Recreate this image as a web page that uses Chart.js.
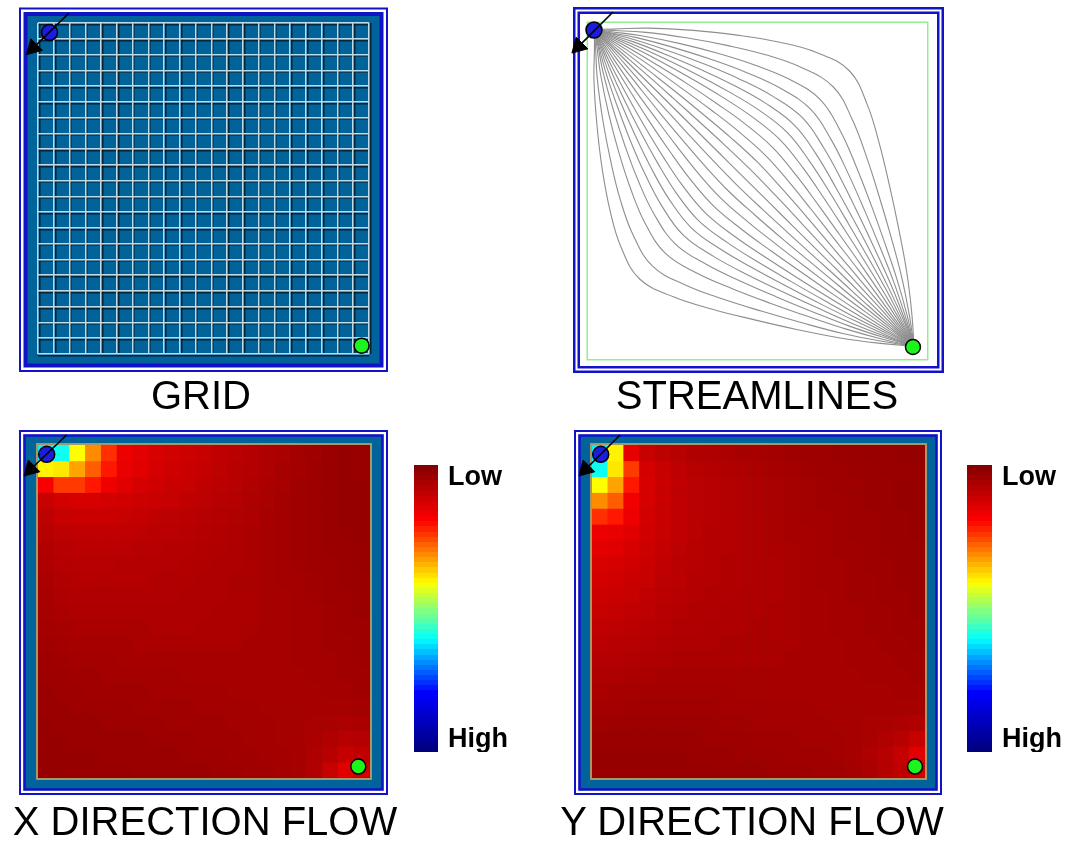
<!DOCTYPE html>
<html lang="en">
<head>
<meta charset="utf-8">
<title>Corner to corner flow</title>
<script src="https://cdn.jsdelivr.net/npm/chart.js@4.4.1/dist/chart.umd.min.js"></script>
<style>
    html, body { margin: 0; padding: 0; background: #ffffff; overflow: hidden; }
    body { position: relative; width: 1073px; height: 841px; }
    canvas { position: absolute; display: block; }
    .panel-title {
        position: absolute; width: 500px; text-align: center;
        font-family: 'Liberation Sans', Arial, Helvetica, sans-serif;
        font-size: 40px; line-height: 40px; color: #000000; white-space: nowrap;
    }
</style>
</head>
<body>
<canvas id="gridChart" width="410" height="380" style="left:0;top:0"></canvas>
<canvas id="streamChart" width="410" height="380" style="left:550px;top:0"></canvas>
<canvas id="xFlowChart" width="410" height="380" style="left:0;top:420px"></canvas>
<canvas id="yFlowChart" width="410" height="380" style="left:550px;top:420px"></canvas>
<canvas id="xScaleBar" width="124" height="312" style="left:400px;top:440px"></canvas>
<canvas id="yScaleBar" width="117" height="312" style="left:953px;top:440px"></canvas>
<div class="panel-title" id="title0" style="left:-49px;top:375px"></div>
<div class="panel-title" id="title1" style="left:507px;top:375px"></div>
<div class="panel-title" id="title2" style="left:-45px;top:801px"></div>
<div class="panel-title" id="title3" style="left:502px;top:801px"></div>
<script>
// All positions are in grid cells: x 0..21 left to right, y 0..21 top to bottom.

const gridLines = [0, 1, 2, 3, 4, 5, 6, 7, 8, 9, 10, 11, 12, 13, 14, 15, 16, 17, 18, 19, 20, 21];

// source (blue), sink (green) and inlet arrow [start, head] for each panel
const gridSource = [{ x: 0.63, y: 0.5 }];
const gridSink = [{ x: 20.43, y: 20.37 }];
const gridInlet = [{ x: 1.84, y: -0.70 }, { x: -0.40, y: 1.48 }];

const streamSource = [{ x: 0.37, y: 0.44 }];
const streamSink = [{ x: 20.13, y: 20.25 }];
const streamInlet = [{ x: 1.55, y: -0.69 }, { x: -0.58, y: 1.46 }];

const xFlowSource = [{ x: 0.55, y: 0.59 }];
const xFlowSink = [{ x: 20.26, y: 20.28 }];
const xFlowInlet = [{ x: 1.81, y: -0.63 }, { x: -0.46, y: 1.53 }];

const yFlowSource = [{ x: 0.55, y: 0.59 }];
const yFlowSink = [{ x: 20.37, y: 20.28 }];
const yFlowInlet = [{ x: 1.77, y: -0.63 }, { x: -0.40, y: 1.53 }];

// streamlines: stations along the source-sink diagonal, and each line's
// offset from that diagonal at every station (+ towards the top right corner)
const streamStations = [0.4, 1.0, 2.0, 3.5, 5.0, 6.5, 8.0, 9.6, 11.2, 12.8, 14.4, 16.0, 17.6, 19.0, 20.2];
const streamOffsets = [
    [0, -0.60, -1.63, -2.94, -4.12, -5.15, -5.97, -6.40, -5.91, -5.09, -4.14, -3.14, -2.07, -1.01, 0],
    [0, -0.53, -1.43, -2.58, -3.60, -4.51, -5.22, -5.60, -5.17, -4.45, -3.62, -2.74, -1.81, -0.88, 0],
    [0, -0.45, -1.22, -2.21, -3.09, -3.86, -4.48, -4.80, -4.44, -3.82, -3.11, -2.35, -1.55, -0.76, 0],
    [0, -0.39, -1.07, -1.93, -2.70, -3.38, -3.92, -4.20, -3.88, -3.34, -2.72, -2.06, -1.36, -0.66, 0],
    [0, -0.35, -0.94, -1.69, -2.37, -2.96, -3.43, -3.68, -3.40, -2.93, -2.38, -1.80, -1.19, -0.58, 0],
    [0, -0.30, -0.82, -1.47, -2.06, -2.58, -2.99, -3.20, -2.96, -2.54, -2.07, -1.57, -1.03, -0.51, 0],
    [0, -0.26, -0.70, -1.27, -1.77, -2.21, -2.57, -2.75, -2.54, -2.19, -1.78, -1.35, -0.89, -0.43, 0],
    [0, -0.22, -0.59, -1.06, -1.48, -1.85, -2.15, -2.30, -2.13, -1.83, -1.49, -1.13, -0.74, -0.36, 0],
    [0, -0.17, -0.47, -0.84, -1.18, -1.47, -1.71, -1.83, -1.69, -1.45, -1.18, -0.90, -0.59, -0.29, 0],
    [0, -0.13, -0.35, -0.63, -0.87, -1.09, -1.27, -1.36, -1.26, -1.08, -0.88, -0.67, -0.44, -0.21, 0],
    [0, -0.08, -0.23, -0.41, -0.58, -0.72, -0.84, -0.90, -0.83, -0.72, -0.58, -0.44, -0.29, -0.14, 0],
    [0, -0.04, -0.11, -0.21, -0.29, -0.36, -0.42, -0.45, -0.42, -0.36, -0.29, -0.22, -0.15, -0.07, 0],
    [0, 0, 0, 0, 0, 0, 0, 0, 0, 0, 0, 0, 0, 0, 0],
    [0, 0.04, 0.11, 0.21, 0.29, 0.36, 0.42, 0.45, 0.42, 0.36, 0.29, 0.22, 0.15, 0.07, 0],
    [0, 0.08, 0.23, 0.41, 0.58, 0.72, 0.84, 0.90, 0.83, 0.72, 0.58, 0.44, 0.29, 0.14, 0],
    [0, 0.13, 0.35, 0.63, 0.87, 1.09, 1.27, 1.36, 1.26, 1.08, 0.88, 0.67, 0.44, 0.21, 0],
    [0, 0.17, 0.47, 0.84, 1.18, 1.47, 1.71, 1.83, 1.69, 1.45, 1.18, 0.90, 0.59, 0.29, 0],
    [0, 0.22, 0.59, 1.06, 1.48, 1.85, 2.15, 2.30, 2.13, 1.83, 1.49, 1.13, 0.74, 0.36, 0],
    [0, 0.26, 0.70, 1.27, 1.77, 2.21, 2.57, 2.75, 2.54, 2.19, 1.78, 1.35, 0.89, 0.43, 0],
    [0, 0.30, 0.82, 1.47, 2.06, 2.58, 2.99, 3.20, 2.96, 2.54, 2.07, 1.57, 1.03, 0.51, 0],
    [0, 0.35, 0.94, 1.69, 2.37, 2.96, 3.43, 3.68, 3.40, 2.93, 2.38, 1.80, 1.19, 0.58, 0],
    [0, 0.39, 1.07, 1.93, 2.70, 3.38, 3.92, 4.20, 3.88, 3.34, 2.72, 2.06, 1.36, 0.66, 0],
    [0, 0.45, 1.22, 2.21, 3.09, 3.86, 4.48, 4.80, 4.44, 3.82, 3.11, 2.35, 1.55, 0.76, 0],
    [0, 0.53, 1.43, 2.58, 3.60, 4.51, 5.22, 5.60, 5.17, 4.45, 3.62, 2.74, 1.81, 0.88, 0],
    [0, 0.62, 1.68, 3.04, 4.24, 5.31, 6.16, 6.60, 6.10, 5.25, 4.27, 3.23, 2.13, 1.04, 0]
];

// flow magnitude per cell, 0 = Low ... 100 = High, rows top to bottom
const xFlow = [
    [62, 60, 41, 31, 23, 16, 14.5, 13, 12, 11, 10, 9, 8, 7, 6, 5.5, 4.5, 4, 3, 2.5, 2.5],
    [40, 39, 33, 27, 21, 15.5, 14, 12.5, 11.5, 10.5, 9.5, 8.5, 7.5, 7, 6, 5, 4.5, 3.5, 3, 2.5, 2.5],
    [18, 24, 24, 21, 16.5, 14, 12.5, 11.5, 10.5, 10, 9, 8, 7.5, 6.5, 5.5, 5, 4, 3.5, 3, 2.5, 2.5],
    [10, 12, 12.5, 12.5, 12, 11.5, 11, 10.5, 10, 9, 8.5, 7.5, 7, 6, 5.5, 4.5, 4, 3.5, 3, 2.5, 2.5],
    [8.5, 10, 10.5, 10.5, 10.5, 10, 9.5, 9, 8.5, 8, 7.5, 7, 6.5, 6, 5, 4.5, 4, 3.5, 3, 2.5, 2.5],
    [7.5, 8.5, 9, 9, 9, 9, 8.5, 8, 8, 7.5, 7, 6.5, 6, 5.5, 5, 4.5, 4, 3.5, 3, 2.5, 2.5],
    [6.5, 7.5, 8, 8, 8, 8, 7.5, 7.5, 7, 7, 6.5, 6.5, 6, 5.5, 5, 4.5, 4, 3.5, 3, 3, 2.5],
    [6, 7, 7.5, 7.5, 7.5, 7, 7, 7, 7, 6.5, 6.5, 6, 6, 5.5, 5, 4.5, 4, 3.5, 3.5, 3, 2.5],
    [5.5, 6.5, 7, 7, 7, 7, 7, 6.5, 6.5, 6.5, 6, 6, 5.5, 5.5, 5, 4.5, 4.5, 4, 3.5, 3, 3],
    [5, 6, 6.5, 6.5, 6.5, 6.5, 6.5, 6.5, 6.5, 6, 6, 6, 5.5, 5.5, 5, 5, 4.5, 4, 3.5, 3.5, 3],
    [5, 5.5, 6, 6, 6, 6, 6, 6, 6, 6, 6, 5.5, 5.5, 5.5, 5, 5, 4.5, 4.5, 4, 3.5, 3],
    [4.5, 5, 5.5, 5.5, 5.5, 5.5, 5.5, 6, 6, 6, 5.5, 5.5, 5.5, 5.5, 5, 5, 4.5, 4.5, 4, 3.5, 3.5],
    [4, 4.5, 5, 5, 5, 5, 5.5, 5.5, 5.5, 5.5, 5.5, 5.5, 5.5, 5, 5, 5, 4.5, 4.5, 4, 4, 3.5],
    [3.5, 4, 4.5, 4.5, 4.5, 5, 5, 5, 5, 5, 5, 5, 5, 5, 5, 5, 4.5, 4.5, 4.5, 4, 3.5],
    [3.5, 3.5, 4, 4, 4.5, 4.5, 4.5, 4.5, 4.5, 5, 5, 5, 5, 5, 5, 5, 5, 4.5, 4.5, 4, 4],
    [3, 3.5, 3.5, 4, 4, 4, 4, 4.5, 4.5, 4.5, 4.5, 4.5, 5, 5, 5, 5, 5, 5, 4.5, 4.5, 4],
    [3, 3, 3.5, 3.5, 3.5, 3.5, 4, 4, 4, 4, 4.5, 4.5, 4.5, 4.5, 5, 5, 5, 5, 5, 5, 4.5],
    [2.5, 3, 3, 3, 3.5, 3.5, 3.5, 3.5, 4, 4, 4, 4, 4.5, 4.5, 4.5, 5, 5, 5.5, 5.5, 6, 5.5],
    [2.5, 2.5, 3, 3, 3, 3, 3, 3.5, 3.5, 3.5, 4, 4, 4, 4.5, 4.5, 5, 5, 5.5, 6.5, 7.5, 7],
    [2.5, 2.5, 2.5, 2.5, 3, 3, 3, 3, 3, 3.5, 3.5, 3.5, 4, 4, 4.5, 4.5, 5, 6, 7.5, 9.5, 9],
    [2, 2.5, 2.5, 2.5, 2.5, 2.5, 3, 3, 3, 3, 3, 3.5, 3.5, 4, 4, 4.5, 5, 6.5, 10, 14, 12]
];

const yFlow = [
    [62, 40, 15, 10, 8.5, 7.5, 6.5, 6, 5.5, 5, 5, 4.5, 4, 3.5, 3.5, 3, 3, 2.5, 2.5, 2.5, 2],
    [60, 39, 24, 12, 10, 8.5, 7.5, 7, 6.5, 6, 5.5, 5, 4.5, 4, 3.5, 3.5, 3, 3, 2.5, 2.5, 2.5],
    [41, 33, 21, 12.5, 10.5, 9, 8, 7.5, 7, 6.5, 6, 5.5, 5, 4.5, 4, 3.5, 3.5, 3, 3, 2.5, 2.5],
    [31, 27, 17, 12.5, 10.5, 9, 8, 7.5, 7, 6.5, 6, 5.5, 5, 4.5, 4, 4, 3.5, 3, 3, 2.5, 2.5],
    [23, 21, 16.5, 12, 10.5, 9, 8, 7.5, 7, 6.5, 6, 5.5, 5, 4.5, 4.5, 4, 3.5, 3.5, 3, 3, 2.5],
    [16, 15.5, 14, 11.5, 10, 9, 8, 7, 7, 6.5, 6, 5.5, 5, 5, 4.5, 4, 3.5, 3.5, 3, 3, 2.5],
    [14.5, 14, 12.5, 11, 9.5, 8.5, 7.5, 7, 7, 6.5, 6, 5.5, 5.5, 5, 4.5, 4, 4, 3.5, 3, 3, 3],
    [13, 12.5, 11.5, 10.5, 9, 8, 7.5, 7, 6.5, 6.5, 6, 6, 5.5, 5, 4.5, 4.5, 4, 3.5, 3.5, 3, 3],
    [12, 11.5, 10.5, 10, 8.5, 8, 7, 7, 6.5, 6.5, 6, 6, 5.5, 5, 4.5, 4.5, 4, 4, 3.5, 3, 3],
    [11, 10.5, 10, 9, 8, 7.5, 7, 6.5, 6.5, 6, 6, 6, 5.5, 5, 5, 4.5, 4, 4, 3.5, 3.5, 3],
    [10, 9.5, 9, 8.5, 7.5, 7, 6.5, 6.5, 6, 6, 6, 5.5, 5.5, 5, 5, 4.5, 4.5, 4, 4, 3.5, 3],
    [9, 8.5, 8, 7.5, 7, 6.5, 6.5, 6, 6, 6, 5.5, 5.5, 5.5, 5, 5, 4.5, 4.5, 4, 4, 3.5, 3.5],
    [8, 7.5, 7.5, 7, 6.5, 6, 6, 6, 5.5, 5.5, 5.5, 5.5, 5.5, 5, 5, 5, 4.5, 4.5, 4, 4, 3.5],
    [7, 7, 6.5, 6, 6, 5.5, 5.5, 5.5, 5.5, 5.5, 5.5, 5.5, 5, 5, 5, 5, 4.5, 4.5, 4.5, 4, 4],
    [6, 6, 5.5, 5.5, 5, 5, 5, 5, 5, 5, 5, 5, 5, 5, 5, 5, 5, 4.5, 4.5, 4.5, 4],
    [5.5, 5, 5, 4.5, 4.5, 4.5, 4.5, 4.5, 4.5, 5, 5, 5, 5, 5, 5, 5, 5, 5, 5, 4.5, 4.5],
    [4.5, 4.5, 4, 4, 4, 4, 4, 4, 4.5, 4.5, 4.5, 4.5, 4.5, 4.5, 5, 5, 5, 5, 5, 5, 5],
    [4, 3.5, 3.5, 3.5, 3.5, 3.5, 3.5, 3.5, 4, 4, 4.5, 4.5, 4.5, 4.5, 4.5, 5, 5, 5.5, 5.5, 6, 6.5],
    [3, 3, 3, 3, 3, 3, 3, 3.5, 3.5, 3.5, 4, 4, 4, 4.5, 4.5, 4.5, 5, 5.5, 6.5, 7.5, 10],
    [2.5, 2.5, 2.5, 2.5, 2.5, 2.5, 3, 3, 3, 3.5, 3.5, 3.5, 4, 4, 4, 4.5, 5, 6, 7.5, 9.5, 14],
    [2.5, 2.5, 2.5, 2.5, 2.5, 2.5, 2.5, 2.5, 3, 3, 3, 3.5, 3.5, 3.5, 4, 4, 4.5, 5.5, 7, 9, 12]
];

// colour bar: tick positions (0 = top) and their labels
const scaleTicks = [0.042, 0.958];
const scaleLabels = ['Low', 'High'];

const panelTitles = ['GRID', 'STREAMLINES', 'X DIRECTION FLOW', 'Y DIRECTION FLOW'];

// ---------------------------------------------------------------------------

Chart.defaults.font.family = "'Liberation Sans', Arial, Helvetica, sans-serif";
Chart.defaults.color = '#000000';

panelTitles.forEach((text, i) => {
    document.getElementById('title' + i).textContent = text;
});

const FRAME_BLUE = '#1212c8';
const TEAL = '#00639a';

// jet-like scale, Low (dark red) -> High (dark blue)
const colorStops = [
    [0, [136, 0, 0]], [19, [255, 0, 0]], [30, [255, 128, 0]], [41, [255, 255, 0]],
    [51, [128, 255, 128]], [61, [0, 255, 255]], [70, [0, 128, 255]], [80, [0, 0, 255]],
    [100, [0, 0, 128]]
];

function heatColor(v) {
    for (let i = 1; i < colorStops.length; i++) {
        const [v1, c1] = colorStops[i];
        if (v <= v1 || i === colorStops.length - 1) {
            const [v0, c0] = colorStops[i - 1];
            const f = Math.max(0, Math.min(1, (v - v0) / (v1 - v0)));
            const rgb = c0.map((c, k) => Math.round(c + (c1[k] - c) * f));
            return `rgb(${rgb.join(',')})`;
        }
    }
}

// double blue border around a panel, drawn before anything else
function makeFrame(outset, layers, edge) {
    return {
        id: 'panelFrame',
        beforeDraw(chart) {
            const { ctx, chartArea: a } = chart;
            const x0 = a.left - outset[0];
            const y0 = a.top - outset[1];
            const w = a.right + outset[2] - x0;
            const h = a.bottom + outset[3] - y0;
            ctx.save();
            layers.forEach(([inset, color]) => {
                ctx.fillStyle = color;
                ctx.fillRect(x0 + inset, y0 + inset, w - 2 * inset, h - 2 * inset);
            });
            ctx.restore();
        },
        beforeDatasetsDraw(chart) {
            if (!edge) return;
            const { ctx, chartArea: a } = chart;
            ctx.save();
            ctx.strokeStyle = edge.color;
            ctx.lineWidth = edge.width;
            const o = edge.width / 2;
            ctx.strokeRect(a.left - o, a.top - o, a.right - a.left + 2 * o, a.bottom - a.top + 2 * o);
            ctx.restore();
        }
    };
}

function hiddenAxis(reverse) {
    return { type: 'linear', min: 0, max: 21, reverse: reverse, display: false, offset: false };
}

function gridAxis(min, max, reverse, color, width) {
    return {
        type: 'linear', min: min, max: max, reverse: reverse, offset: false,
        afterBuildTicks: (scale) => { scale.ticks = gridLines.map(v => ({ value: v })); },
        ticks: { display: false },
        grid: { color: color, lineWidth: width, drawTicks: false, offset: false },
        border: { display: false }
    };
}

function markerDatasets(source, sink, inlet) {
    return [
        {
            data: inlet, showLine: true, borderColor: '#000000', borderWidth: 1.6,
            pointRadius: [0, 9.5], pointStyle: 'triangle', pointRotation: 225,
            pointBackgroundColor: '#000000', pointBorderColor: '#000000', pointBorderWidth: 1,
            clip: false, order: 0
        },
        {
            data: source, pointRadius: 8, pointBackgroundColor: '#1c1cdc',
            pointBorderColor: '#000000', pointBorderWidth: 1.5, clip: false, order: 1
        },
        {
            data: sink, pointRadius: 7.5, pointBackgroundColor: '#1cf51c',
            pointBorderColor: '#000000', pointBorderWidth: 1.5, clip: false, order: 1
        }
    ].map(d => Object.assign({ type: 'scatter' }, d));
}

function heatDatasets(values) {
    return values.map((row, r) => ({
        type: 'bar',
        data: row.map((v, c) => ({ x: c + 0.5, y: [r, r + 1] })),
        backgroundColor: row.map(heatColor),
        borderWidth: 0,
        barPercentage: 1,
        categoryPercentage: 1,
        grouped: false,
        order: 3
    }));
}

const commonOptions = {
    responsive: false,
    animation: false,
    events: []
};

const noLegend = { legend: { display: false }, tooltip: { enabled: false } };

// GRID
new Chart(document.getElementById('gridChart'), {
    type: 'scatter',
    data: { datasets: markerDatasets(gridSource, gridSink, gridInlet) },
    options: {
        ...commonOptions,
        layout: { padding: { left: 38, top: 23, right: 41, bottom: 26 } },
        scales: {
            xShade: gridAxis(-0.1, 20.9, false, 'rgba(10,25,40,0.85)', 1.5),
            yShade: Object.assign(gridAxis(-0.1, 20.9, true, 'rgba(10,25,40,0.85)', 1.5), { position: 'left' }),
            x: gridAxis(0, 21, false, '#bcdbe8', 1.5),
            y: Object.assign(gridAxis(0, 21, true, '#bcdbe8', 1.5), { position: 'left' })
        },
        plugins: noLegend
    },
    plugins: [makeFrame([19, 15.5, 19, 18], [[0, FRAME_BLUE], [2, '#ffffff'], [4.5, FRAME_BLUE], [8.5, TEAL]])]
});

// STREAMLINES
const streamDatasets = streamOffsets.map(offsets => ({
    type: 'scatter',
    data: streamStations.map((s, i) => ({ x: s + offsets[i], y: s - offsets[i] })),
    showLine: true,
    pointRadius: 0,
    borderColor: '#8e8e8e',
    borderWidth: 1.1,
    tension: 0.4,
    order: 2
}));

new Chart(document.getElementById('streamChart'), {
    type: 'scatter',
    data: { datasets: streamDatasets.concat(markerDatasets(streamSource, streamSink, streamInlet)) },
    options: {
        ...commonOptions,
        layout: { padding: { left: 38, top: 23, right: 33, bottom: 21 } },
        scales: { x: hiddenAxis(false), y: hiddenAxis(true) },
        plugins: noLegend
    },
    plugins: [makeFrame([15, 16, 17, 14], [[0, FRAME_BLUE], [2.5, '#ffffff'], [4.5, FRAME_BLUE], [7, '#ffffff']],
        { color: '#90ee90', width: 1.5 })]
});

// X / Y DIRECTION FLOW
function flowChart(id, values, source, sink, inlet, padding, outset) {
    new Chart(document.getElementById(id), {
        type: 'bar',
        data: { datasets: heatDatasets(values).concat(markerDatasets(source, sink, inlet)) },
        options: {
            ...commonOptions,
            layout: { padding: padding },
            scales: { x: hiddenAxis(false), y: hiddenAxis(true) },
            plugins: noLegend
        },
        plugins: [makeFrame(outset, [[0, FRAME_BLUE], [2, '#ffffff'], [4.2, FRAME_BLUE], [6.8, TEAL]],
            { color: '#a8966a', width: 2 })]
    });
}

flowChart('xFlowChart', xFlow, xFlowSource, xFlowSink, xFlowInlet,
    { left: 38, top: 25, right: 40, bottom: 22 }, [19, 15, 18, 17]);
flowChart('yFlowChart', yFlow, yFlowSource, yFlowSink, yFlowInlet,
    { left: 42, top: 25, right: 35, bottom: 22 }, [18, 15, 17, 17]);

// colour bars
function scaleFill(context) {
    const chart = context.chart;
    const area = chart.chartArea;
    if (!area) return heatColor(0);
    const g = chart.ctx.createLinearGradient(0, area.top, 0, area.bottom);
    const bands = 56;
    for (let i = 0; i < bands; i++) {
        const c = heatColor(100 * i / (bands - 1));
        g.addColorStop(i / bands, c);
        g.addColorStop((i + 1) / bands, c);
    }
    return g;
}

function scaleBar(id, axisWidth) {
    new Chart(document.getElementById(id), {
        type: 'bar',
        data: {
            labels: [''],
            datasets: [{
                data: [[0, 1]], backgroundColor: scaleFill, borderWidth: 0,
                barPercentage: 1, categoryPercentage: 1
            }]
        },
        options: {
            ...commonOptions,
            layout: { padding: { left: 14, top: 25, right: 0, bottom: 0 } },
            scales: {
                x: { display: false },
                y: {
                    position: 'right', reverse: true, min: 0, max: 1,
                    afterBuildTicks: (scale) => { scale.ticks = scaleTicks.map(v => ({ value: v })); },
                    afterFit: (scale) => {
                        scale.width = axisWidth;
                        scale.paddingTop = 0;
                        scale.paddingBottom = 0;
                    },
                    ticks: {
                        callback: (value, index) => scaleLabels[index],
                        padding: 10, color: '#000000',
                        font: { size: 27, weight: 'bold' }
                    },
                    grid: { display: false, drawTicks: false },
                    border: { display: false }
                }
            },
            plugins: noLegend
        }
    });
}

scaleBar('xScaleBar', 86);
scaleBar('yScaleBar', 78);
</script>
</body>
</html>
